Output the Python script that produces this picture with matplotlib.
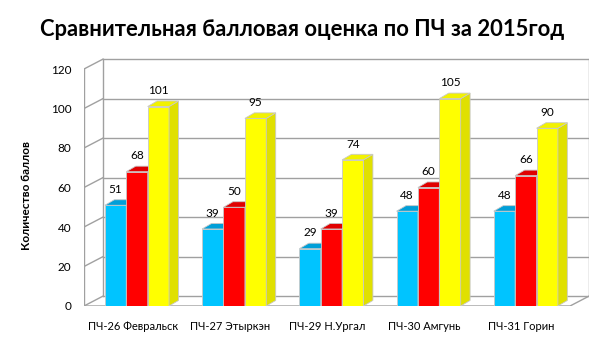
import matplotlib
matplotlib.use("Agg")
import matplotlib.pyplot as plt
from matplotlib.patches import Polygon

# данные
categories = ["ПЧ-26 Февральск", "ПЧ-27 Этыркэн", "ПЧ-29 Н.Ургал", "ПЧ-30 Амгунь", "ПЧ-31 Горин"]
series1 = [51, 39, 29, 48, 48]
series2 = [68, 50, 39, 60, 66]
series3 = [101, 95, 74, 105, 90]
yticks = [0, 20, 40, 60, 80, 100, 120]

plt.rcParams['font.family'] = ['Lato', 'DejaVu Sans']

# цвета: лицевая грань, боковая, верхняя
colors = [("#00C4FF", "#00A6DA", "#009FD8"),
          ("#FF0000", "#D90000", "#E00000"),
          ("#FFFF00", "#E0E000", "#F2F200")]

W_DX, W_DY = 0.195, 5.0     # глубина стенок
B_DX, B_DY = 0.097, 2.8     # глубина столбцов
BAR_W = 0.22
GRID = "#A0A0A0"
EDGE = "#C8C8C8"


def poly(ax, pts, color, z, ec=EDGE, lw=0.6):
    ax.add_patch(Polygon(pts, closed=True, facecolor=color, edgecolor=ec, linewidth=lw, zorder=z))


def bar3d(ax, x0, h, cols, z):
    x1 = x0 + BAR_W
    poly(ax, [(x0, 0), (x1, 0), (x1, h), (x0, h)], cols[0], z)  # лицевая
    poly(ax, [(x1, 0), (x1 + B_DX, B_DY), (x1 + B_DX, h + B_DY), (x1, h)], cols[1], z)  # боковая
    poly(ax, [(x0, h), (x1, h), (x1 + B_DX, h + B_DY), (x0 + B_DX, h + B_DY)], cols[2], z)  # верх


fig = plt.figure(figsize=(6.05, 3.4), dpi=100)
ax = fig.add_axes([84 / 605, 34 / 340, (589 - 84) / 605, (306 - 57) / 340])
n = len(categories)
ax.set_xlim(0, n + W_DX)
ax.set_ylim(0, (306 - 57) / 1.975)
for s in ax.spines.values():
    s.set_visible(False)

# стенки и сетка
for t in yticks:
    ax.plot([0, W_DX], [t, t + W_DY], color=GRID, lw=1.0, zorder=1)
    ax.plot([W_DX, n + W_DX], [t + W_DY, t + W_DY], color=GRID, lw=1.0, zorder=1)
ax.plot([0, 0], [0, yticks[-1]], color=GRID, lw=1.0, zorder=1)
ax.plot([W_DX, W_DX], [W_DY, yticks[-1] + W_DY], color=GRID, lw=1.0, zorder=1)
ax.plot([n + W_DX, n + W_DX], [W_DY, yticks[-1] + W_DY], color=GRID, lw=1.0, zorder=1)
ax.plot([0, n, n + W_DX], [0, 0, W_DY], color=GRID, lw=1.0, zorder=1)

# столбцы
data = [series1, series2, series3]
for i in range(n):
    start = i + 0.5 + 0.045 - 1.5 * BAR_W
    for k, ser in enumerate(data):
        x0 = start + k * BAR_W
        bar3d(ax, x0, ser[i], colors[k], 3 + k)
        ax.text(x0 + BAR_W / 2, ser[i] + 8, str(ser[i]), ha='center', va='center',
                fontsize=8.5, color='black', zorder=10)

ax.set_yticks(yticks)
ax.set_yticklabels([str(t) for t in yticks], fontsize=8.5)
ax.set_xticks([i + 0.5 for i in range(n)])
ax.set_xticklabels(categories, fontsize=8)
ax.tick_params(axis='both', length=0)
ax.tick_params(axis='y', pad=9)
ax.tick_params(axis='x', pad=11)

fig.text(0.5, 1 - 30 / 340, "Сравнительная балловая оценка по ПЧ за 2015год",
         ha='center', va='center', fontsize=15.8, fontweight='bold')
fig.text(27 / 605, 1 - 196 / 340, "Количество баллов", rotation=90,
         ha='center', va='center', fontsize=8.6, fontweight='bold')

fig.savefig("out.png", dpi=100)
